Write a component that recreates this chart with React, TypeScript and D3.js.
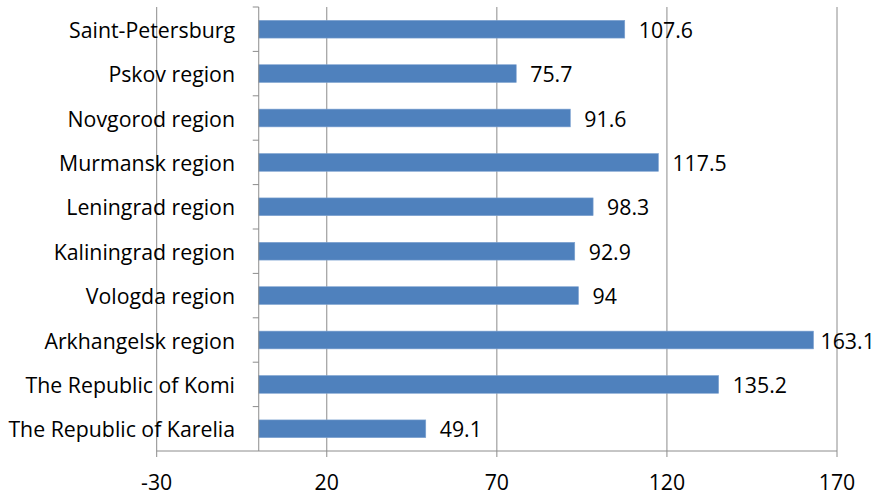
import React from "react";
import * as d3 from "d3";

const categories = [
  "Saint-Petersburg",
  "Pskov region",
  "Novgorod region",
  "Murmansk region",
  "Leningrad region",
  "Kaliningrad region",
  "Vologda region",
  "Arkhangelsk region",
  "The Republic of Komi",
  "The Republic of Karelia",
];
const values = [107.6, 75.7, 91.6, 117.5, 98.3, 92.9, 94, 163.1, 135.2, 49.1];
const xTicks = [-30, 20, 70, 120, 170];

const W = 879;
const H = 496;
const FONT = "'Open Sans', sans-serif";
const FS = 21.3;

export default function App() {
  const left = 156.7;
  const right = 837;
  const top = 7;
  const bottom = 451;
  const x = d3.scaleLinear().domain([-30, 170]).range([left, right]);
  const y = d3.scaleBand<string>().domain(categories).range([top, bottom]).paddingInner(0.6).paddingOuter(0.3);
  const yb = d3.scaleBand<string>().domain(categories).range([top, bottom]);
  const x0 = x(0);
  const grid = "#8c8c8c";
  return (
    <div style={{ position: "fixed", left: 0, top: 0, width: W, height: H, background: "#fff" }}>
      <svg width={W} height={H} style={{ display: "block" }}>
        <rect x={0} y={0} width={W} height={H} fill="#fff" />
        {xTicks.map((t) => (
          <line key={"g" + t} x1={x(t)} x2={x(t)} y1={top} y2={bottom + 6} stroke={grid} strokeWidth={1} />
        ))}
        <line x1={left} x2={right} y1={bottom} y2={bottom} stroke={grid} strokeWidth={1} />
        {categories.map((c, i) => (
          <rect
            key={"b" + c}
            x={x0}
            y={y(c)!}
            width={x(values[i]) - x0}
            height={y.bandwidth()}
            fill="#4F81BD"
            stroke="#7FA3D1"
            strokeWidth={0.6}
          />
        ))}
        <line x1={x0} x2={x0} y1={top} y2={bottom} stroke={grid} strokeWidth={1} />
        {categories.map((c) => (
          <line key={"t" + c} x1={x0 - 6} x2={x0} y1={yb(c)!} y2={yb(c)!} stroke={grid} strokeWidth={1} />
        ))}
        {categories.map((c) => (
          <text
            key={"l" + c}
            x={235}
            y={yb(c)! + yb.bandwidth() / 2}
            textAnchor="end"
            dominantBaseline="central"
            fontFamily={FONT}
            fontSize={FS}
            fill="#000"
          >
            {c}
          </text>
        ))}
        {categories.map((c, i) => {
          const label = String(values[i]);
          let estW = 0;
          for (const ch of label) estW += ch === "." ? FS * 0.27 : FS * 0.572;
          let lx = x(values[i]) + 14;
          if (lx + estW > W - 4) lx = Math.max(x(values[i]) + 6, W - 4 - estW);
          return (
            <text
              key={"v" + c}
              x={lx}
              y={y(c)! + y.bandwidth() / 2}
              dominantBaseline="central"
              fontFamily={FONT}
              fontSize={FS}
              fill="#000"
            >
              {label}
            </text>
          );
        })}
        {xTicks.map((t) => (
          <text
            key={"x" + t}
            x={x(t)}
            y={481}
            textAnchor="middle"
            dominantBaseline="central"
            fontFamily={FONT}
            fontSize={FS}
            fill="#000"
          >
            {t}
          </text>
        ))}
      </svg>
    </div>
  );
}
